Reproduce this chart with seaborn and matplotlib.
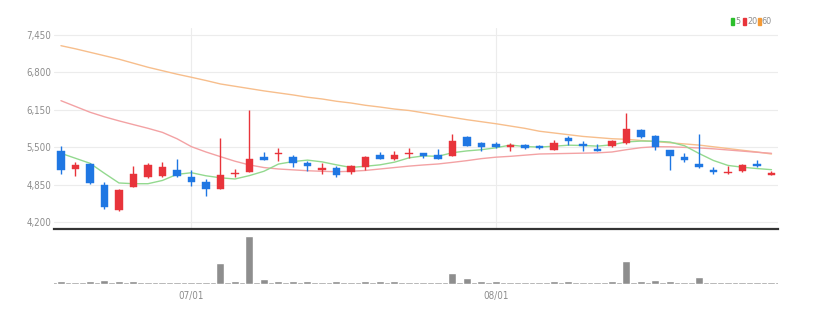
import numpy as np
import pandas as pd
import matplotlib
matplotlib.use("Agg")
import matplotlib.pyplot as plt
import seaborn as sns

# ---- data ----
opens  = [5438, 5125, 5212, 4842, 4414, 4819, 4981, 5004, 5114, 4981,
          4894, 4778, 5040, 5079, 5328, 5385, 5339, 5224, 5114, 5148,
          5067, 5166, 5374, 5305, 5380, 5397, 5362, 5357, 5686, 5576,
          5559, 5513, 5542, 5528, 5458, 5655, 5557, 5476, 5528, 5574,
          5799, 5695, 5458, 5331, 5204, 5112, 5054, 5083, 5216, 5025]
closes = [5108, 5195, 4877, 4472, 4761, 5044, 5195, 5160, 4998, 4905,
          4778, 5021, 5056, 5293, 5281, 5403, 5235, 5183, 5143, 5021,
          5177, 5339, 5305, 5374, 5397, 5345, 5305, 5617, 5530, 5501,
          5513, 5542, 5484, 5487, 5574, 5603, 5516, 5429, 5603, 5822,
          5678, 5505, 5354, 5285, 5152, 5066, 5077, 5199, 5170, 5054]
highs  = [5530, 5241, 5235, 4905, 4772, 5177, 5235, 5247, 5293, 5114,
          4952, 5657, 5125, 6155, 5414, 5484, 5368, 5270, 5224, 5183,
          5200, 5345, 5414, 5443, 5484, 5400, 5472, 5738, 5698, 5594,
          5594, 5582, 5553, 5540, 5620, 5701, 5603, 5557, 5632, 6093,
          5811, 5712, 5458, 5401, 5730, 5158, 5170, 5210, 5285, 5083]
lows   = [5033, 5010, 4865, 4431, 4402, 4810, 4969, 4992, 4981, 4830,
          4663, 4770, 4981, 5067, 5281, 5264, 5166, 5096, 5033, 4986,
          5038, 5108, 5300, 5281, 5322, 5310, 5300, 5345, 5519, 5438,
          5484, 5443, 5472, 5475, 5447, 5533, 5429, 5429, 5505, 5562,
          5666, 5447, 5100, 5239, 5141, 5043, 5037, 5072, 5158, 5014]
volumes = [23, 17, 23, 40, 23, 23, 17, 17, 17, 17,
           17, 210, 23, 476, 43, 30, 23, 23, 17, 23,
           17, 23, 23, 23, 17, 17, 17, 107, 57, 27,
           27, 17, 17, 17, 27, 27, 17, 17, 27, 227,
           30, 33, 27, 17, 63, 17, 17, 17, 17, 17]
ma5_head = [5397, 5311, 5224, 5050]
ma20 = [6310, 6210, 6110, 6030, 5960, 5895, 5831, 5760, 5650, 5512,
        5420, 5339, 5260, 5195, 5150, 5125, 5110, 5095, 5085, 5078,
        5085, 5100, 5125, 5150, 5175, 5195, 5212, 5240, 5270, 5305,
        5330, 5345, 5365, 5385, 5390, 5395, 5400, 5405, 5420, 5460,
        5495, 5512, 5510, 5500, 5490, 5475, 5455, 5435, 5415, 5397]
ma60 = [7264, 7210, 7150, 7090, 7030, 6960, 6890, 6830, 6770, 6716,
        6660, 6600, 6560, 6520, 6480, 6445, 6410, 6370, 6340, 6300,
        6270, 6230, 6200, 6165, 6140, 6100, 6060, 6020, 5980, 5945,
        5910, 5870, 5830, 5780, 5750, 5720, 5690, 5670, 5650, 5640,
        5620, 5600, 5580, 5560, 5540, 5510, 5480, 5450, 5420, 5385]
y_ticks = [4200, 4850, 5500, 6150, 6800, 7450]
x_tick_pos = [9, 30]
x_tick_labels = ["07/01", "08/01"]
legend_labels = ["5", "20", "60"]

# ---- styling ----
sns.set_style("white")
plt.rcParams['font.family'] = ['Liberation Sans Narrow', 'DejaVu Sans']

RED = "#e8343b"
BLUE = "#1f77e3"
GRID = "#ececec"
TXT = "#8c8c8c"

n = len(opens)
idx = np.arange(n)
df = pd.DataFrame({"i": idx, "open": opens, "close": closes, "high": highs,
                   "low": lows, "vol": np.array(volumes) * 1000,
                   "ma20": ma20, "ma60": ma60})
ma5 = df["close"].rolling(5).mean().to_numpy()
ma5[:4] = ma5_head
df["ma5"] = ma5

fig = plt.figure(figsize=(8.14, 3.18), dpi=100)
W, H = 814, 318
def rect(x0, y0, x1, y1):
    return [x0 / W, 1 - y1 / H, (x1 - x0) / W, (y1 - y0) / H]

ax = fig.add_axes(rect(54, 28, 778, 229))
axv = fig.add_axes(rect(54, 231, 778, 284))

# gridlines
for t in y_ticks:
    ax.axhline(t, color=GRID, lw=0.8, zorder=0)
for p in x_tick_pos:
    ax.axvline(p, color=GRID, lw=0.8, zorder=0)

# moving averages
sns.lineplot(data=df, x="i", y="ma60", ax=ax, color="#f7be8c", lw=1.0, zorder=2)
sns.lineplot(data=df, x="i", y="ma20", ax=ax, color="#f3a2a4", lw=1.0, zorder=2)
sns.lineplot(data=df, x="i", y="ma5", ax=ax, color="#93d98f", lw=1.0, zorder=2)

# candles
up = df["close"] >= df["open"]
cols = np.where(up, RED, BLUE)
ax.vlines(df["i"], df["low"], df["high"], colors=cols, lw=1.0, zorder=3)
body_bottom = np.minimum(df["open"], df["close"])
body_h = np.maximum(np.abs(df["close"] - df["open"]), 18)
ax.bar(df["i"], body_h, bottom=body_bottom, width=0.52, color=cols,
       edgecolor=cols, lw=0.3, zorder=4)

ax.set_xlim(-0.48, 49.45)
ax.set_ylim(4084, 7571)
ax.set_yticks(y_ticks)
ax.set_yticklabels([f"{t:,}" for t in y_ticks], color=TXT, fontsize=7,
                   fontstretch="condensed")
ax.set_xticks([])
ax.set_xlabel("")
ax.set_ylabel("")
ax.tick_params(axis="y", length=0, pad=2)
for s in ["top", "right", "left"]:
    ax.spines[s].set_visible(False)
ax.spines["bottom"].set_color("#333333")
ax.spines["bottom"].set_linewidth(1.6)

# volume
sns.barplot(data=df, x="i", y="vol", ax=axv, native_scale=True,
            color="#8e8e8e", saturation=1, width=0.55, zorder=2)
axv.axhline(0, color="#ababab", lw=1.2, zorder=1)
axv.set_xlim(-0.48, 49.45)
axv.set_ylim(-4000, 530000)
axv.set_yticks([])
axv.set_xticks(x_tick_pos)
axv.set_xticklabels(x_tick_labels, color=TXT, fontsize=7,
                    fontstretch="condensed")
axv.tick_params(axis="x", length=3, width=0.8, color="#666666", pad=2,
                direction="out")
axv.set_xlabel("")
axv.set_ylabel("")
for s in ["top", "right", "left", "bottom"]:
    axv.spines[s].set_visible(False)

# legend
leg_cols = ["#2cbf2c", RED, "#f59a35"]
sq_x = [731, 743, 757.5]
for x, c, lab in zip(sq_x, leg_cols, legend_labels):
    fig.patches.append(plt.Rectangle((x / W, 1 - 25 / H), 3 / W, 7 / H,
                                     transform=fig.transFigure, color=c))
    fig.text((x + 4.2) / W, 1 - 21.5 / H, lab, color=TXT, fontsize=6.5,
             va="center", ha="left", fontstretch="condensed")

fig.savefig("out.png", dpi=100, facecolor="white")
